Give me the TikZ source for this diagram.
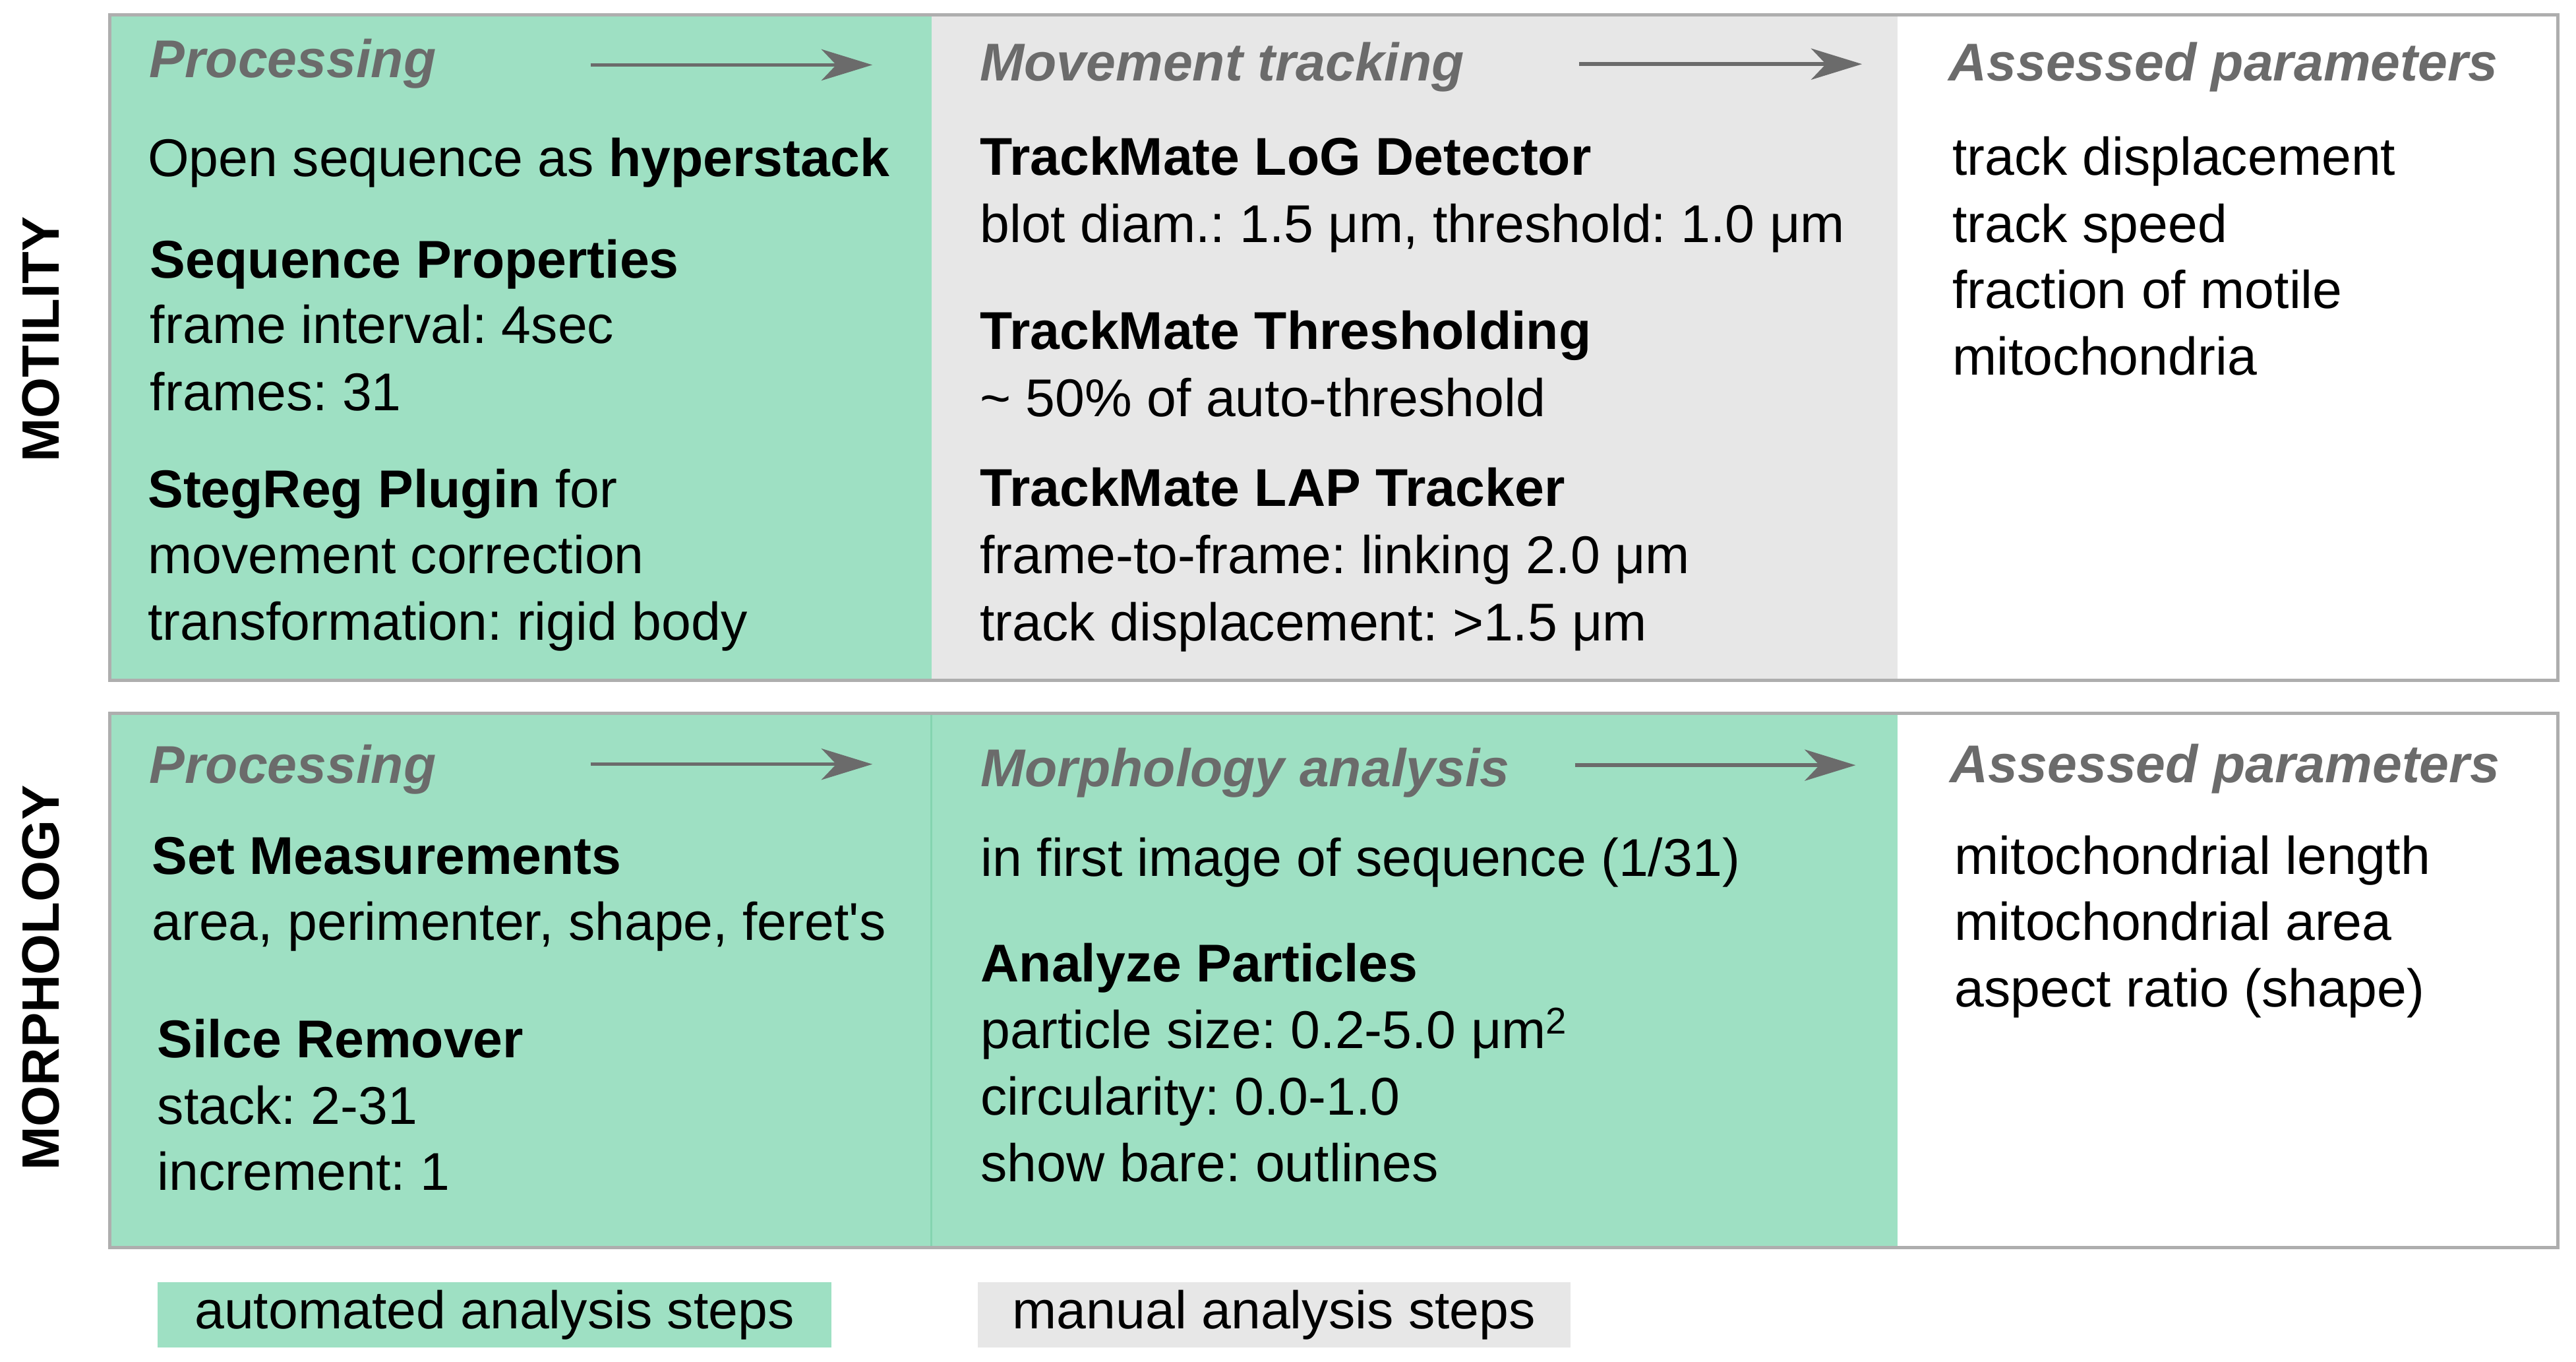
\documentclass[tikz,border=0pt]{standalone}
\usepackage{fontspec}
\setmainfont{Liberation Sans}
\usetikzlibrary{arrows.meta}
\definecolor{mgreen}{HTML}{9EE0C3}
\definecolor{mgray}{HTML}{E7E7E7}
\definecolor{hdgray}{HTML}{6B6B6B}
\definecolor{bordergray}{HTML}{AEAEAE}
\definecolor{divgreen}{HTML}{84D4B0}
\frenchspacing
\begin{document}
\frenchspacing
\begin{tikzpicture}[x=1pt,y=-1pt,
  txt/.style={anchor=base west, inner sep=0pt, outer sep=0pt, font=\fontsize{32.35}{40}\selectfont\frenchspacing, text=black},
  hd/.style={txt, font=\fontsize{32.35}{40}\selectfont\bfseries\itshape, text=hdgray},
  bt/.style={txt, font=\fontsize{32.35}{40}\selectfont\bfseries},
  side/.style={rotate=90, inner sep=0pt, font=\fontsize{32}{40}\selectfont\bfseries},
  flow/.style={draw=hdgray, line width=2.2pt, -{Stealth[length=31pt,width=19pt,inset=9pt]}},
  panel/.style={draw=bordergray, line width=2pt},
  legbox/.style={inner sep=0pt, minimum width=410pt, minimum height=40pt, font=\fontsize{32.35}{40}\selectfont, text height=23.6pt, text depth=6.8pt}]
\useasboundingbox (0,0) rectangle (1568,828.7);
\fill[white] (0,0) rectangle (1568,828.7);

% ---------- top panel (motility) ----------
\fill[mgreen] (67,9) rectangle (567,414);
\fill[mgray] (567,9) rectangle (1155,414);
\draw[panel] (67,9) rectangle (1557,414);

% ---------- bottom panel (morphology) ----------
\fill[mgreen] (67,434) rectangle (1155,759);
\draw[divgreen, line width=1.2pt] (567,434) -- (567,759);
\draw[panel] (67,434) rectangle (1557,759);

% side labels
\node[side] (mot) at (25,206.5) {MOTILITY};
\node[side] (mor) at (25,595) {MORPHOLOGY};

% ---------- top, column 1 ----------
\node[hd] (tp1h) at (91,47) {Processing};
\coordinate (ta1s) at (359.4,39.5);
\coordinate (ta1e) at (531,39.5);
\draw[flow] (ta1s) -- (ta1e);
\node[txt] (tp1a) at (90,107.5) {Open sequence as \textbf{hyperstack}};
\node[bt] (tp1b) at (91.5,169) {Sequence Properties};
\node[txt] (tp1c) at (91.5,209) {frame interval: 4sec};
\node[txt] (tp1d) at (91.5,250) {frames: 31};
\node[txt] (tp1e) at (90,309) {\textbf{StegReg Plugin} for};
\node[txt] (tp1f) at (90,349) {movement correction};
\node[txt] (tp1g) at (90,389.5) {transformation: rigid body};

% ---------- top, column 2 ----------
\node[hd] (tp2h) at (596.5,49) {Movement tracking};
\coordinate (ta2s) at (961.2,39);
\coordinate (ta2e) at (1133.4,39);
\draw[flow] (ta2s) -- (ta2e);
\node[bt] (tp2a) at (596.5,106.5) {TrackMate LoG Detector};
\node[txt] (tp2b) at (596.5,147.5) {blot diam.: 1.5 μm, threshold: 1.0 μm};
\node[bt] (tp2c) at (596.5,212.5) {TrackMate Thresholding};
\node[txt] (tp2d) at (596.5,253.5) {\textasciitilde{} 50\% of auto-threshold};
\node[bt] (tp2e) at (596.5,308) {TrackMate LAP Tracker};
\node[txt] (tp2f) at (596.5,349) {frame-to-frame: linking 2.0 μm};
\node[txt] (tp2g) at (596.5,390) {track displacement: >1.5 μm};

% ---------- top, column 3 ----------
\node[hd] (tp3h) at (1186,49) {Assessed parameters};
\node[txt] (tp3a) at (1188.5,106.5) {track displacement};
\node[txt] (tp3b) at (1188.5,147.3) {track speed};
\node[txt] (tp3c) at (1188.5,187.6) {fraction of motile};
\node[txt] (tp3d) at (1188.5,228) {mitochondria};

% ---------- bottom, column 1 ----------
\node[hd] (bp1h) at (91,476.7) {Processing};
\coordinate (ba1s) at (359.4,465);
\coordinate (ba1e) at (531,465);
\draw[flow] (ba1s) -- (ba1e);
\node[bt] (bp1a) at (92.5,532) {Set Measurements};
\node[txt] (bp1b) at (92.5,572) {area, perimenter, shape, feret\textquotesingle s};
\node[bt] (bp1c) at (95.8,643.5) {Silce Remover};
\node[txt] (bp1d) at (95.8,684) {stack: 2-31};
\node[txt] (bp1e) at (95.8,724) {increment: 1};

% ---------- bottom, column 2 ----------
\node[hd] (bp2h) at (597,478.5) {Morphology analysis};
\coordinate (ba2s) at (958.6,465.6);
\coordinate (ba2e) at (1129.5,465.6);
\draw[flow] (ba2s) -- (ba2e);
\node[txt] (bp2a) at (597,533) {in first image of sequence (1/31)};
\node[bt] (bp2b) at (597,597.5) {Analyze Particles};
\node[txt] (bp2c) at (597,638) {particle size: 0.2-5.0 μm\textsuperscript{2}};
\node[txt] (bp2d) at (597,678.6) {circularity: 0.0-1.0};
\node[txt] (bp2e) at (597,719) {show bare: outlines};

% ---------- bottom, column 3 ----------
\node[hd] (bp3h) at (1187,476) {Assessed parameters};
\node[txt] (bp3a) at (1189.8,532) {mitochondrial length};
\node[txt] (bp3b) at (1189.8,572) {mitochondrial area};
\node[txt] (bp3c) at (1189.8,612.5) {aspect ratio (shape)};

% ---------- legend ----------
\node[legbox, fill=mgreen] (legA) at (301,800) {automated analysis steps};
\node[legbox, fill=mgray, minimum width=361pt] (legM) at (775.5,800) {manual analysis steps};
\end{tikzpicture}
\end{document}
